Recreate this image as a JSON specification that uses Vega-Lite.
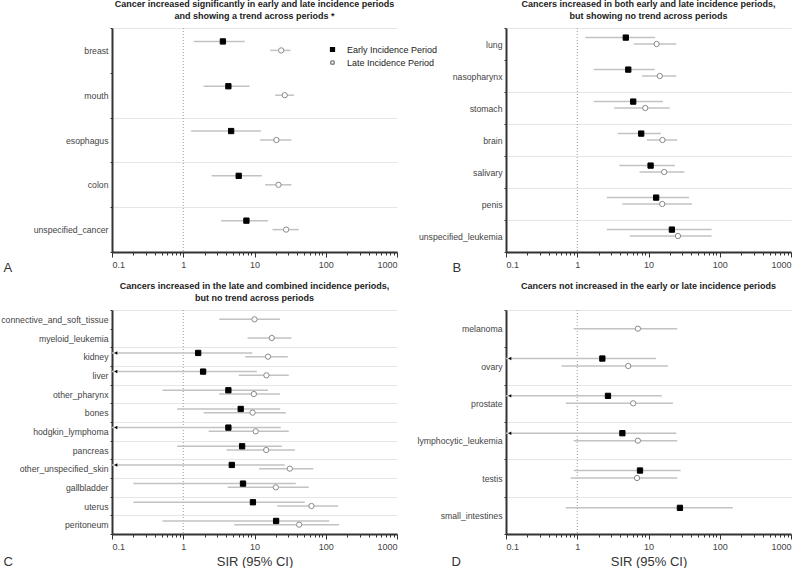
{
  "$schema": "https://vega.github.io/schema/vega-lite/v6.json",
  "background": "white",
  "padding": {"left": 0, "top": 0, "right": 0, "bottom": 0},
  "bounds": "flush",
  "columns": 2,
  "spacing": {"row": 58, "column": 109},
  "datasets": {
    "A": [
      {"cat": "breast", "period": "Early Incidence Period", "sir": 3.6, "lo": 1.4, "hi": 7.3},
      {"cat": "breast", "period": "Late Incidence Period", "sir": 23.7, "lo": 16.6, "hi": 32},
      {"cat": "mouth", "period": "Early Incidence Period", "sir": 4.3, "lo": 1.93, "hi": 8.5},
      {"cat": "mouth", "period": "Late Incidence Period", "sir": 26.6, "lo": 19.5, "hi": 36},
      {"cat": "esophagus", "period": "Early Incidence Period", "sir": 4.7, "lo": 1.29, "hi": 12.3},
      {"cat": "esophagus", "period": "Late Incidence Period", "sir": 20.3, "lo": 12, "hi": 33},
      {"cat": "colon", "period": "Early Incidence Period", "sir": 6.0, "lo": 2.5, "hi": 12.7},
      {"cat": "colon", "period": "Late Incidence Period", "sir": 21.7, "lo": 14.1, "hi": 33},
      {"cat": "unspecified_cancer", "period": "Early Incidence Period", "sir": 7.7, "lo": 3.4, "hi": 15.4},
      {"cat": "unspecified_cancer", "period": "Late Incidence Period", "sir": 27.8, "lo": 17.9, "hi": 41.8}
    ],
    "B": [
      {"cat": "lung", "period": "Early Incidence Period", "sir": 4.8, "lo": 1.3, "hi": 12.4},
      {"cat": "lung", "period": "Late Incidence Period", "sir": 13, "lo": 6.2, "hi": 24.5},
      {"cat": "nasopharynx", "period": "Early Incidence Period", "sir": 5.2, "lo": 1.7, "hi": 12.2},
      {"cat": "nasopharynx", "period": "Late Incidence Period", "sir": 14.4, "lo": 8.1, "hi": 24.5},
      {"cat": "stomach", "period": "Early Incidence Period", "sir": 6.1, "lo": 1.7, "hi": 15.9},
      {"cat": "stomach", "period": "Late Incidence Period", "sir": 9.0, "lo": 3.3, "hi": 19.8},
      {"cat": "brain", "period": "Early Incidence Period", "sir": 7.9, "lo": 3.7, "hi": 14.9},
      {"cat": "brain", "period": "Late Incidence Period", "sir": 15.7, "lo": 9.5, "hi": 25.3},
      {"cat": "salivary", "period": "Early Incidence Period", "sir": 10.7, "lo": 3.9, "hi": 23.5},
      {"cat": "salivary", "period": "Late Incidence Period", "sir": 16.6, "lo": 7.5, "hi": 32},
      {"cat": "penis", "period": "Early Incidence Period", "sir": 12.8, "lo": 2.6, "hi": 37},
      {"cat": "penis", "period": "Late Incidence Period", "sir": 15.6, "lo": 4.3, "hi": 40.7},
      {"cat": "unspecified_leukemia", "period": "Early Incidence Period", "sir": 21.3, "lo": 2.6, "hi": 77},
      {"cat": "unspecified_leukemia", "period": "Late Incidence Period", "sir": 25.9, "lo": 5.5, "hi": 77}
    ],
    "C": [
      {"cat": "connective_and_soft_tissue", "period": "Late Incidence Period", "sir": 10, "lo": 3.2, "hi": 22.9},
      {"cat": "myeloid_leukemia", "period": "Late Incidence Period", "sir": 17.5, "lo": 8.0, "hi": 33},
      {"cat": "kidney", "period": "Early Incidence Period", "sir": 1.62, "lo": 0.01, "hi": 9.3},
      {"cat": "kidney", "period": "Late Incidence Period", "sir": 15.5, "lo": 7.4, "hi": 29.3},
      {"cat": "liver", "period": "Early Incidence Period", "sir": 1.9, "lo": 0.01, "hi": 10.8},
      {"cat": "liver", "period": "Late Incidence Period", "sir": 14.7, "lo": 6.0, "hi": 30.3},
      {"cat": "other_pharynx", "period": "Early Incidence Period", "sir": 4.3, "lo": 0.51, "hi": 15.5},
      {"cat": "other_pharynx", "period": "Late Incidence Period", "sir": 9.8, "lo": 3.2, "hi": 22.9},
      {"cat": "bones", "period": "Early Incidence Period", "sir": 6.4, "lo": 0.82, "hi": 22.9},
      {"cat": "bones", "period": "Late Incidence Period", "sir": 9.4, "lo": 1.93, "hi": 27.5},
      {"cat": "hodgkin_lymphoma", "period": "Early Incidence Period", "sir": 4.3, "lo": 0.01, "hi": 23.4},
      {"cat": "hodgkin_lymphoma", "period": "Late Incidence Period", "sir": 10.4, "lo": 2.27, "hi": 30.3},
      {"cat": "pancreas", "period": "Early Incidence Period", "sir": 6.7, "lo": 0.82, "hi": 24.2},
      {"cat": "pancreas", "period": "Late Incidence Period", "sir": 14.6, "lo": 4.05, "hi": 37},
      {"cat": "other_unspecified_skin", "period": "Early Incidence Period", "sir": 4.8, "lo": 0.01, "hi": 26.6},
      {"cat": "other_unspecified_skin", "period": "Late Incidence Period", "sir": 31.3, "lo": 11.6, "hi": 67},
      {"cat": "gallbladder", "period": "Early Incidence Period", "sir": 6.9, "lo": 0.2, "hi": 38},
      {"cat": "gallbladder", "period": "Late Incidence Period", "sir": 19.9, "lo": 4.2, "hi": 57.8},
      {"cat": "uterus", "period": "Early Incidence Period", "sir": 9.5, "lo": 0.2, "hi": 50.8},
      {"cat": "uterus", "period": "Late Incidence Period", "sir": 63, "lo": 20.8, "hi": 149},
      {"cat": "peritoneum", "period": "Early Incidence Period", "sir": 20.1, "lo": 0.51, "hi": 112},
      {"cat": "peritoneum", "period": "Late Incidence Period", "sir": 42.3, "lo": 5.2, "hi": 154}
    ],
    "D": [
      {"cat": "melanoma", "period": "Late Incidence Period", "sir": 7.1, "lo": 0.89, "hi": 25.3},
      {"cat": "ovary", "period": "Early Incidence Period", "sir": 2.25, "lo": 0.01, "hi": 12.8},
      {"cat": "ovary", "period": "Late Incidence Period", "sir": 5.2, "lo": 0.6, "hi": 18.7},
      {"cat": "prostate", "period": "Early Incidence Period", "sir": 2.7, "lo": 0.01, "hi": 15.4},
      {"cat": "prostate", "period": "Late Incidence Period", "sir": 6.1, "lo": 0.69, "hi": 22},
      {"cat": "lymphocytic_leukemia", "period": "Early Incidence Period", "sir": 4.3, "lo": 0.01, "hi": 24.5},
      {"cat": "lymphocytic_leukemia", "period": "Late Incidence Period", "sir": 7.1, "lo": 0.89, "hi": 25.3},
      {"cat": "testis", "period": "Early Incidence Period", "sir": 7.6, "lo": 0.89, "hi": 28.2},
      {"cat": "testis", "period": "Late Incidence Period", "sir": 6.9, "lo": 0.81, "hi": 25.3},
      {"cat": "small_intestines", "period": "Early Incidence Period", "sir": 27.6, "lo": 0.69, "hi": 152}
    ]
  },
  "concat": [
    {
      "width": 285, "height": 224,
      "title": {"text": ["Cancer increased significantly in early and late incidence periods", "and showing a trend across periods *"], "anchor": "middle"},
      "data": {"name": "A"},
      "layer": [
        {"data": {"values": [{}]}, "mark": {"type": "rule", "color": "#9a9a9a", "strokeDash": [1, 2], "strokeWidth": 1},
         "encoding": {"x": {"datum": 1, "type": "quantitative", "scale": {"type": "log", "domain": [0.1, 1000], "nice": false},
           "axis": {"orient": "bottom", "values": [0.2,0.3,0.4,0.5,0.6,0.7,0.8,0.9,2,3,4,5,6,7,8,9,20,30,40,50,60,70,80,90,200,300,400,500,600,700,800,900], "labels": false, "tickSize": 3, "domain": false, "title": "A", "titleX": -109, "titleY": 15, "titleAlign": "left", "titleBaseline": "middle"}}}},
        {"mark": {"type": "rule", "color": "#c2c2c2", "strokeWidth": 1.5, "clip": true},
         "encoding": {
           "y": {"field": "cat", "type": "nominal", "title": null, "scale": {"domain": ["breast","mouth","esophagus","colon","unspecified_cancer"], "paddingInner": 0, "paddingOuter": 0}},
           "yOffset": {"field": "period", "type": "nominal", "scale": {"type": "point", "domain": ["Early Incidence Period","Late Incidence Period"], "range": [13.44, 22.4], "padding": 0}},
           "x": {"field": "lo", "type": "quantitative", "scale": {"type": "log", "domain": [0.1, 1000], "nice": false}, "axis": {"orient": "bottom", "values": [0.1,1,10,100,1000], "format": "~g", "tickSize": 5, "title": null}},
           "x2": {"field": "hi"}}},
        {"mark": {"type": "point", "opacity": 1, "strokeWidth": 1, "size": 28},
         "encoding": {
           "y": {"field": "cat", "type": "nominal", "title": null},
           "yOffset": {"field": "period", "type": "nominal"},
           "x": {"field": "sir", "type": "quantitative", "axis": null},
           "shape": {"field": "period", "type": "nominal", "scale": {"domain": ["Early Incidence Period","Late Incidence Period"], "range": ["square","circle"]}, "legend": {"title": null, "orient": "none", "legendX": 216, "legendY": 17}},
           "fill": {"field": "period", "type": "nominal", "scale": {"domain": ["Early Incidence Period","Late Incidence Period"], "range": ["#000000","#ffffff"]}, "legend": {"title": null, "orient": "none", "legendX": 216, "legendY": 17}},
           "stroke": {"field": "period", "type": "nominal", "scale": {"domain": ["Early Incidence Period","Late Incidence Period"], "range": ["#000000","#8a8a8a"]}, "legend": {"title": null, "orient": "none", "legendX": 216, "legendY": 17}}}}
      ],
      "resolve": {"axis": {"x": "independent"}}
    },
    {
      "width": 285, "height": 224,
      "title": {"text": ["Cancers increased in both early and late incidence periods,", "but showing no trend across periods"], "anchor": "middle"},
      "data": {"name": "B"},
      "layer": [
        {"data": {"values": [{}]}, "mark": {"type": "rule", "color": "#9a9a9a", "strokeDash": [1, 2], "strokeWidth": 1},
         "encoding": {"x": {"datum": 1, "type": "quantitative", "scale": {"type": "log", "domain": [0.1, 1000], "nice": false},
           "axis": {"orient": "bottom", "values": [0.2,0.3,0.4,0.5,0.6,0.7,0.8,0.9,2,3,4,5,6,7,8,9,20,30,40,50,60,70,80,90,200,300,400,500,600,700,800,900], "labels": false, "tickSize": 3, "domain": false, "title": "B", "titleX": -54, "titleY": 15, "titleAlign": "left", "titleBaseline": "middle"}}}},
        {"mark": {"type": "rule", "color": "#c2c2c2", "strokeWidth": 1.5, "clip": true},
         "encoding": {
           "y": {"field": "cat", "type": "nominal", "title": null, "scale": {"domain": ["lung","nasopharynx","stomach","brain","salivary","penis","unspecified_leukemia"], "paddingInner": 0, "paddingOuter": 0}},
           "yOffset": {"field": "period", "type": "nominal", "scale": {"type": "point", "domain": ["Early Incidence Period","Late Incidence Period"], "range": [9.6, 16], "padding": 0}},
           "x": {"field": "lo", "type": "quantitative", "scale": {"type": "log", "domain": [0.1, 1000], "nice": false}, "axis": {"orient": "bottom", "values": [0.1,1,10,100,1000], "format": "~g", "tickSize": 5, "title": null}},
           "x2": {"field": "hi"}}},
        {"mark": {"type": "point", "opacity": 1, "strokeWidth": 1, "size": 28},
         "encoding": {
           "y": {"field": "cat", "type": "nominal", "title": null},
           "yOffset": {"field": "period", "type": "nominal"},
           "x": {"field": "sir", "type": "quantitative", "axis": null},
           "shape": {"field": "period", "type": "nominal", "scale": {"domain": ["Early Incidence Period","Late Incidence Period"], "range": ["square","circle"]}, "legend": null},
           "fill": {"field": "period", "type": "nominal", "scale": {"domain": ["Early Incidence Period","Late Incidence Period"], "range": ["#000000","#ffffff"]}, "legend": null},
           "stroke": {"field": "period", "type": "nominal", "scale": {"domain": ["Early Incidence Period","Late Incidence Period"], "range": ["#000000","#8a8a8a"]}, "legend": null}}}
      ],
      "resolve": {"axis": {"x": "independent"}}
    },
    {
      "width": 285, "height": 224,
      "title": {"text": ["Cancers increased in the late and combined incidence periods,", "but no trend across periods"], "anchor": "middle"},
      "data": {"name": "C"},
      "layer": [
        {"data": {"values": [{}]}, "mark": {"type": "rule", "color": "#9a9a9a", "strokeDash": [1, 2], "strokeWidth": 1},
         "encoding": {"x": {"datum": 1, "type": "quantitative", "scale": {"type": "log", "domain": [0.1, 1000], "nice": false},
           "axis": {"orient": "bottom", "values": [0.2,0.3,0.4,0.5,0.6,0.7,0.8,0.9,2,3,4,5,6,7,8,9,20,30,40,50,60,70,80,90,200,300,400,500,600,700,800,900], "labels": false, "tickSize": 3, "domain": false, "title": "C", "titleX": -109, "titleY": 27, "titleAlign": "left", "titleBaseline": "middle"}}}},
        {"mark": {"type": "rule", "color": "#c2c2c2", "strokeWidth": 1.5, "clip": true},
         "encoding": {
           "y": {"field": "cat", "type": "nominal", "title": null, "scale": {"domain": ["connective_and_soft_tissue","myeloid_leukemia","kidney","liver","other_pharynx","bones","hodgkin_lymphoma","pancreas","other_unspecified_skin","gallbladder","uterus","peritoneum"], "paddingInner": 0, "paddingOuter": 0}},
           "yOffset": {"field": "period", "type": "nominal", "scale": {"type": "point", "domain": ["Early Incidence Period","Late Incidence Period"], "range": [5.6, 9.33], "padding": 0}},
           "x": {"field": "lo", "type": "quantitative", "scale": {"type": "log", "domain": [0.1, 1000], "nice": false}, "axis": {"orient": "bottom", "values": [0.1,1,10,100,1000], "format": "~g", "tickSize": 5, "title": "SIR (95% CI)", "titleY": 27, "titleBaseline": "middle"}},
           "x2": {"field": "hi"}}},
        {"transform": [{"filter": "datum.lo < 0.1"}], "mark": {"type": "point", "shape": "triangle-left", "filled": true, "color": "#000", "size": 12, "opacity": 1},
         "encoding": {
           "y": {"field": "cat", "type": "nominal", "title": null},
           "yOffset": {"field": "period", "type": "nominal"},
           "x": {"datum": 0.113, "type": "quantitative", "axis": null}}},
        {"mark": {"type": "point", "opacity": 1, "strokeWidth": 1, "size": 28},
         "encoding": {
           "y": {"field": "cat", "type": "nominal", "title": null},
           "yOffset": {"field": "period", "type": "nominal"},
           "x": {"field": "sir", "type": "quantitative", "axis": null},
           "shape": {"field": "period", "type": "nominal", "scale": {"domain": ["Early Incidence Period","Late Incidence Period"], "range": ["square","circle"]}, "legend": null},
           "fill": {"field": "period", "type": "nominal", "scale": {"domain": ["Early Incidence Period","Late Incidence Period"], "range": ["#000000","#ffffff"]}, "legend": null},
           "stroke": {"field": "period", "type": "nominal", "scale": {"domain": ["Early Incidence Period","Late Incidence Period"], "range": ["#000000","#8a8a8a"]}, "legend": null}}}
      ],
      "resolve": {"axis": {"x": "independent"}}
    },
    {
      "width": 285, "height": 224,
      "title": {"text": ["Cancers not increased in the early or late incidence periods", " "], "anchor": "middle"},
      "data": {"name": "D"},
      "layer": [
        {"data": {"values": [{}]}, "mark": {"type": "rule", "color": "#9a9a9a", "strokeDash": [1, 2], "strokeWidth": 1},
         "encoding": {"x": {"datum": 1, "type": "quantitative", "scale": {"type": "log", "domain": [0.1, 1000], "nice": false},
           "axis": {"orient": "bottom", "values": [0.2,0.3,0.4,0.5,0.6,0.7,0.8,0.9,2,3,4,5,6,7,8,9,20,30,40,50,60,70,80,90,200,300,400,500,600,700,800,900], "labels": false, "tickSize": 3, "domain": false, "title": "D", "titleX": -55, "titleY": 27, "titleAlign": "left", "titleBaseline": "middle"}}}},
        {"mark": {"type": "rule", "color": "#c2c2c2", "strokeWidth": 1.5, "clip": true},
         "encoding": {
           "y": {"field": "cat", "type": "nominal", "title": null, "scale": {"domain": ["melanoma","ovary","prostate","lymphocytic_leukemia","testis","small_intestines"], "paddingInner": 0, "paddingOuter": 0}},
           "yOffset": {"field": "period", "type": "nominal", "scale": {"type": "point", "domain": ["Early Incidence Period","Late Incidence Period"], "range": [11.2, 18.67], "padding": 0}},
           "x": {"field": "lo", "type": "quantitative", "scale": {"type": "log", "domain": [0.1, 1000], "nice": false}, "axis": {"orient": "bottom", "values": [0.1,1,10,100,1000], "format": "~g", "tickSize": 5, "title": "SIR (95% CI)", "titleY": 27, "titleBaseline": "middle"}},
           "x2": {"field": "hi"}}},
        {"transform": [{"filter": "datum.lo < 0.1"}], "mark": {"type": "point", "shape": "triangle-left", "filled": true, "color": "#000", "size": 12, "opacity": 1},
         "encoding": {
           "y": {"field": "cat", "type": "nominal", "title": null},
           "yOffset": {"field": "period", "type": "nominal"},
           "x": {"datum": 0.113, "type": "quantitative", "axis": null}}},
        {"mark": {"type": "point", "opacity": 1, "strokeWidth": 1, "size": 28},
         "encoding": {
           "y": {"field": "cat", "type": "nominal", "title": null},
           "yOffset": {"field": "period", "type": "nominal"},
           "x": {"field": "sir", "type": "quantitative", "axis": null},
           "shape": {"field": "period", "type": "nominal", "scale": {"domain": ["Early Incidence Period","Late Incidence Period"], "range": ["square","circle"]}, "legend": null},
           "fill": {"field": "period", "type": "nominal", "scale": {"domain": ["Early Incidence Period","Late Incidence Period"], "range": ["#000000","#ffffff"]}, "legend": null},
           "stroke": {"field": "period", "type": "nominal", "scale": {"domain": ["Early Incidence Period","Late Incidence Period"], "range": ["#000000","#8a8a8a"]}, "legend": null}}}
      ],
      "resolve": {"axis": {"x": "independent"}}
    }
  ],
  "resolve": {"scale": {"yOffset": "independent", "shape": "independent", "fill": "independent", "stroke": "independent"}},
  "config": {
    "font": "Liberation Sans",
    "view": {"stroke": null},
    "title": {"fontSize": 9, "fontWeight": "bold", "color": "#222222", "lineHeight": 12, "offset": 3},
    "axisY": {"tickBand": "extent", "grid": true, "gridColor": "#e6e6e6", "gridWidth": 1, "gridOpacity": {"condition": {"test": "datum.index === 0", "value": 0}, "value": 1}, "domainColor": "#333333", "domainWidth": 2, "tickColor": "#333333", "tickSize": 2, "labelFontSize": 8.7, "labelColor": "#444444", "labelPadding": 2, "labelLimit": 250},
    "axisX": {"grid": false, "domainColor": "#333333", "domainWidth": 2, "tickColor": "#333333", "labelFontSize": 9, "labelColor": "#444444", "labelPadding": 3, "titleFontSize": 13, "titleFontWeight": "normal", "titleColor": "#333333"},
    "legend": {"labelFontSize": 9, "labelColor": "#222222", "symbolSize": 14, "rowPadding": 2, "padding": 0, "labelOffset": 10}
  }
}
